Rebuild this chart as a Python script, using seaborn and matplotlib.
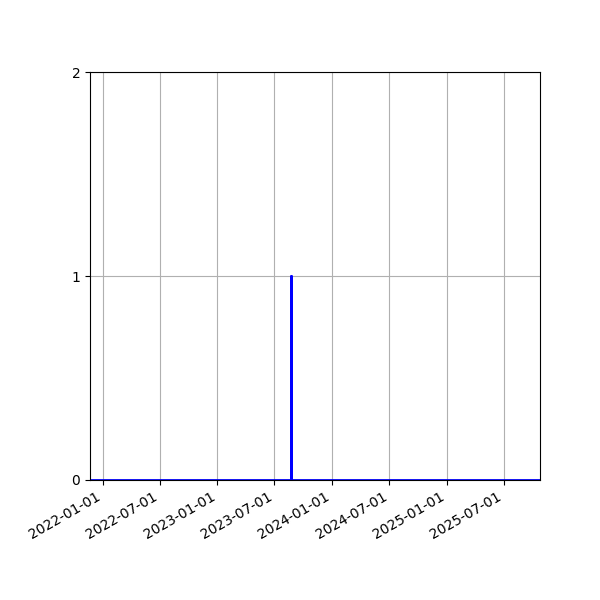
import matplotlib
matplotlib.use("Agg")
import matplotlib.pyplot as plt
import matplotlib.dates as mdates
import pandas as pd
import seaborn as sns

# series: zero everywhere except a single event
dates = ["2021-11-21", "2023-08-22", "2023-08-22", "2023-08-22", "2025-10-24"]
values = [0, 0, 1, 0, 0]
tick_dates = ["2022-01-01", "2022-07-01", "2023-01-01", "2023-07-01",
              "2024-01-01", "2024-07-01", "2025-01-01", "2025-07-01"]
y_ticks = [0, 1, 2]

df = pd.DataFrame({"date": pd.to_datetime(dates), "value": values})

fig, ax = plt.subplots(figsize=(6, 6), dpi=100)
sns.lineplot(data=df, x="date", y="value", estimator=None, sort=False,
             color="blue", linewidth=2, ax=ax)

ax.set_xlim(df["date"].min(), df["date"].max())
ax.set_ylim(0, 2)
ax.set_yticks(y_ticks)
ax.set_xticks(pd.to_datetime(tick_dates))
ax.xaxis.set_major_formatter(mdates.DateFormatter("%Y-%m-%d"))
ax.set_xlabel("")
ax.set_ylabel("")
ax.grid(True)
fig.autofmt_xdate()
fig.subplots_adjust(left=0.15, right=0.9, top=0.88, bottom=0.2)

fig.savefig("out.png")
